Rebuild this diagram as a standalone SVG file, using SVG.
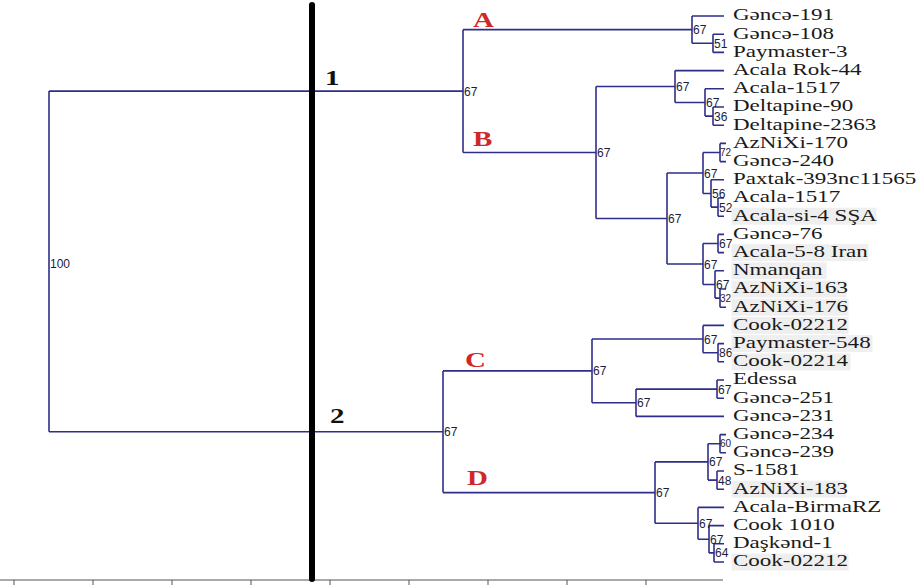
<svg xmlns="http://www.w3.org/2000/svg" width="921" height="585" viewBox="0 0 921 585">
<style>
.br{fill:none;stroke:#2e2e8c;stroke-width:1.6}
.nl{font-family:"Liberation Sans",Arial,sans-serif;font-size:12px;fill:#1c1c3c}
.sm{font-size:10px}
.lf{font-family:"Liberation Serif","Times New Roman",serif;font-size:16px;fill:#1a1a1a}
.hl{fill:#efefef}
.cl{font-family:"Liberation Serif","Times New Roman",serif;font-size:20px;font-weight:bold;fill:#d02828}
.gn{font-family:"Liberation Serif","Times New Roman",serif;font-size:20px;font-weight:bold;fill:#111}
</style>
<rect width="921" height="585" fill="#fff"/>
<g id="axis" stroke="#555" stroke-width="1">
<line x1="0" y1="580" x2="723" y2="580"/>
<path d="M14 580V585M93 580V585M172 580V585M251 580V585M330 580V585M409 580V585M488 580V585M567 580V585M646 580V585"/>
</g>
<g id="connectors" class="br">
<path d="M49 91.1V431.75M49 91.1H463M49 431.75H443"/>
<path d="M463 29.65V152.5M463 29.65H692M463 152.5H596"/>
<path d="M692 16V43.3M692 16H724M692 43.3H713"/>
<path d="M713 34.2V52.4M713 34.2H724M713 52.4H724"/>
<path d="M596 86.5V218.5M596 86.5H675M596 218.5H667"/>
<path d="M675 70.6V102.45M675 70.6H724M675 102.45H705"/>
<path d="M705 88.8V116.1M705 88.8H724M705 116.1H713"/>
<path d="M713 107V125.2M713 107H724M713 125.2H724"/>
<path d="M667 173V264M667 173H703M667 264H703"/>
<path d="M703 152.5V193.45M703 152.5H720M703 193.45H711"/>
<path d="M720 143.4V161.6M720 143.4H726M720 161.6H726"/>
<path d="M711 179.8V207.1M711 179.8H724M711 207.1H718"/>
<path d="M718 198V216.2M718 198H724M718 216.2H724"/>
<path d="M703 243.5V284.45M703 243.5H718M703 284.45H715"/>
<path d="M718 234.4V252.6M718 234.4H724M718 252.6H724"/>
<path d="M715 270.8V298.1M715 270.8H724M715 298.1H720"/>
<path d="M720 289V307.2M720 289H726M720 307.2H726"/>
<path d="M443 370.9V492.6M443 370.9H592M443 492.6H655"/>
<path d="M592 339.05V402.75M592 339.05H703M592 402.75H636"/>
<path d="M703 325.4V352.7M703 325.4H724M703 352.7H718"/>
<path d="M718 343.6V361.8M718 343.6H724M718 361.8H724"/>
<path d="M636 389.1V416.4M636 389.1H717M636 416.4H724"/>
<path d="M717 380V398.2M717 380H724M717 398.2H724"/>
<path d="M655 461.9V523.3M655 461.9H708M655 523.3H698"/>
<path d="M708 443.7V480.1M708 443.7H720M708 480.1H717"/>
<path d="M720 434.6V452.8M720 434.6H726M720 452.8H726"/>
<path d="M717 471V489.2M717 471H724M717 489.2H724"/>
<path d="M698 507.4V539.25M698 507.4H724M698 539.25H709"/>
<path d="M709 525.6V552.9M709 525.6H724M709 552.9H714"/>
<path d="M714 543.8V562M714 543.8H724M714 562H724"/>
</g>
<rect id="divider" x="309" y="2" width="6" height="580" rx="3" fill="#000"/>
<g id="internal-nodes" class="nl">
<g id="n-root"><text x="50" y="268">100</text></g>
<g id="n-A"><text x="464" y="96">67</text></g>
<g id="n-A1"><text x="693" y="34">67</text></g>
<g id="n-A1a"><text x="714" y="48">51</text></g>
<g id="n-B"><text x="597" y="157">67</text></g>
<g id="n-B1"><text x="676" y="91">67</text></g>
<g id="n-B1a"><text x="706" y="107">67</text></g>
<g id="n-B1b"><text x="714" y="121">36</text></g>
<g id="n-B2"><text x="668" y="223">67</text></g>
<g id="n-B2a"><text x="704" y="178">67</text></g>
<g id="n-B2a1"><text class="sm" x="720" y="156">72</text></g>
<g id="n-B2a2"><text x="712" y="198">56</text></g>
<g id="n-B2a3"><text x="719" y="212">52</text></g>
<g id="n-B2b"><text x="704" y="269">67</text></g>
<g id="n-B2b1"><text x="719" y="248">67</text></g>
<g id="n-B2b2"><text x="716" y="289">67</text></g>
<g id="n-B2b3"><text class="sm" x="720" y="302">32</text></g>
<g id="n-CD"><text x="444" y="436">67</text></g>
<g id="n-C"><text x="593" y="375">67</text></g>
<g id="n-C1"><text x="704" y="344">67</text></g>
<g id="n-C1a"><text x="719" y="357">86</text></g>
<g id="n-C2"><text x="637" y="407">67</text></g>
<g id="n-C2a"><text x="718" y="394">67</text></g>
<g id="n-D"><text x="656" y="497">67</text></g>
<g id="n-D1"><text x="709" y="466">67</text></g>
<g id="n-D1a"><text class="sm" x="720" y="447">60</text></g>
<g id="n-D1b"><text x="718" y="485">48</text></g>
<g id="n-D2"><text x="699" y="528">67</text></g>
<g id="n-D2a"><text x="710" y="544">67</text></g>
<g id="n-D2b"><text x="715" y="557">64</text></g>
</g>
<g id="leaves" transform="scale(1.44,1)">
<g id="leaf-0"><text class="lf" x="509" y="20.5">Gəncə-191</text></g>
<g id="leaf-1"><text class="lf" x="509" y="38.7">Gəncə-108</text></g>
<g id="leaf-2"><text class="lf" x="509" y="56.9">Paymaster-3</text></g>
<g id="leaf-3"><text class="lf" x="509" y="75.1">Acala Rok-44</text></g>
<g id="leaf-4"><text class="lf" x="509" y="93.3">Acala-1517</text></g>
<g id="leaf-5"><text class="lf" x="509" y="111.5">Deltapine-90</text></g>
<g id="leaf-6"><text class="lf" x="509" y="129.7">Deltapine-2363</text></g>
<g id="leaf-7"><text class="lf" x="509" y="147.9">AzNiXi-170</text></g>
<g id="leaf-8"><text class="lf" x="509" y="166.1">Gəncə-240</text></g>
<g id="leaf-9"><text class="lf" x="509" y="184.3">Paxtak-393nc11565</text></g>
<g id="leaf-10"><text class="lf" x="509" y="202.5">Acala-1517</text></g>
<g id="leaf-11"><rect class="hl" x="508" y="207.7" width="100.7" height="17"/><text class="lf" x="509" y="220.7">Acala-si-4 SŞA</text></g>
<g id="leaf-12"><text class="lf" x="509" y="238.9">Gəncə-76</text></g>
<g id="leaf-13"><rect class="hl" x="508" y="244.1" width="95.1" height="17"/><text class="lf" x="509" y="257.1">Acala-5-8 Iran</text></g>
<g id="leaf-14"><rect class="hl" x="508" y="262.3" width="66" height="17"/><text class="lf" x="509" y="275.3">Nmanqan</text></g>
<g id="leaf-15"><rect class="hl" x="508" y="280.5" width="79.9" height="17"/><text class="lf" x="509" y="293.5">AzNiXi-163</text></g>
<g id="leaf-16"><rect class="hl" x="508" y="298.7" width="81.3" height="17"/><text class="lf" x="509" y="311.7">AzNiXi-176</text></g>
<g id="leaf-17"><rect class="hl" x="508" y="316.9" width="81.3" height="17"/><text class="lf" x="509" y="329.9">Cook-02212</text></g>
<g id="leaf-18"><rect class="hl" x="508" y="335.1" width="97.9" height="17"/><text class="lf" x="509" y="348.1">Paymaster-548</text></g>
<g id="leaf-19"><rect class="hl" x="508" y="353.3" width="82.6" height="17"/><text class="lf" x="509" y="366.3">Cook-02214</text></g>
<g id="leaf-20"><text class="lf" x="509" y="384.5">Edessa</text></g>
<g id="leaf-21"><text class="lf" x="509" y="402.7">Gəncə-251</text></g>
<g id="leaf-22"><text class="lf" x="509" y="420.9">Gəncə-231</text></g>
<g id="leaf-23"><text class="lf" x="509" y="439.1">Gəncə-234</text></g>
<g id="leaf-24"><text class="lf" x="509" y="457.3">Gəncə-239</text></g>
<g id="leaf-25"><text class="lf" x="509" y="475.5">S-1581</text></g>
<g id="leaf-26"><rect class="hl" x="508" y="480.7" width="79.9" height="17"/><text class="lf" x="509" y="493.7">AzNiXi-183</text></g>
<g id="leaf-27"><text class="lf" x="509" y="511.9">Acala-BirmaRZ</text></g>
<g id="leaf-28"><text class="lf" x="509" y="530.1">Cook 1010</text></g>
<g id="leaf-29"><text class="lf" x="509" y="548.3">Daşkənd-1</text></g>
<g id="leaf-30"><rect class="hl" x="508" y="553.5" width="81.3" height="17"/><text class="lf" x="509" y="566.5">Cook-02212</text></g>
</g>
<g id="cluster-labels" transform="scale(1.45,1)">
<g id="label-A"><text class="cl" x="326.2" y="27">A</text></g>
<g id="label-B"><text class="cl" x="326.2" y="146">B</text></g>
<g id="label-C"><text class="cl" x="320.7" y="367">C</text></g>
<g id="label-D"><text class="cl" x="322.1" y="485">D</text></g>
<g id="group-1"><text class="gn" x="224.1" y="85">1</text></g>
<g id="group-2"><text class="gn" x="227.6" y="423">2</text></g>
</g>
</svg>
